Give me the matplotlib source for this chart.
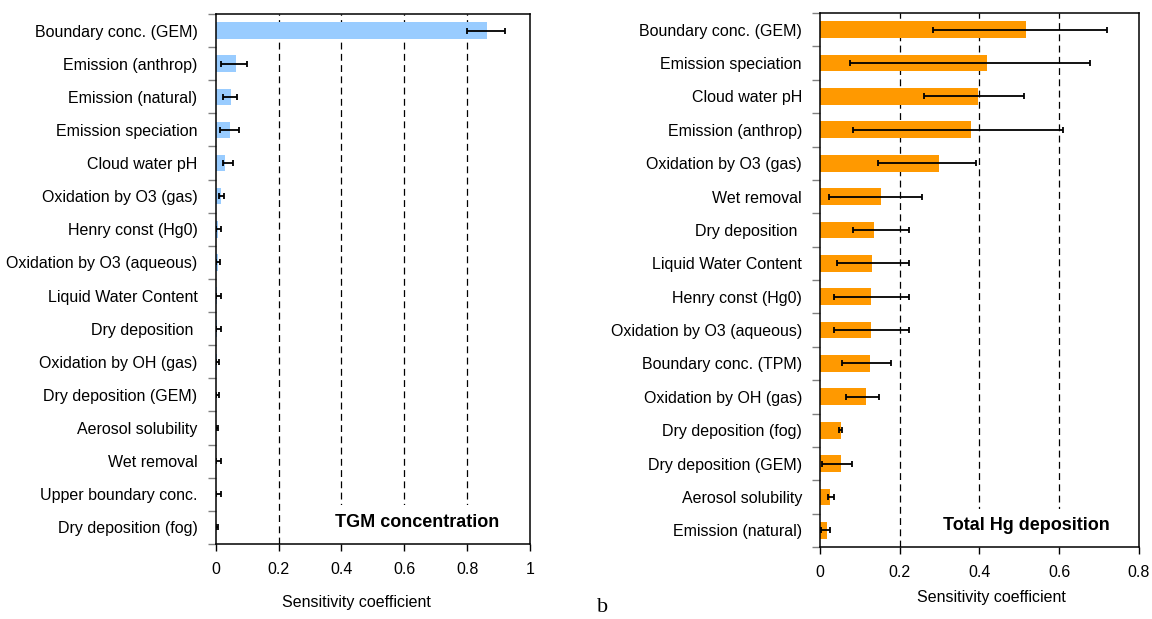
import numpy as np
import matplotlib
matplotlib.use('Agg')
import matplotlib.pyplot as plt
from matplotlib.patches import Rectangle
from matplotlib.ticker import FixedLocator, FormatStrFormatter

plt.rcParams['font.family'] = ['Liberation Sans', 'DejaVu Sans']

# TGM concentration sensitivity (top to bottom)
tgm_labels = ['Boundary conc. (GEM)', 'Emission (anthrop)', 'Emission (natural)',
              'Emission speciation', 'Cloud water pH', 'Oxidation by O3 (gas)',
              'Henry const (Hg0)', 'Oxidation by O3 (aqueous)', 'Liquid Water Content',
              'Dry deposition ', 'Oxidation by OH (gas)', 'Dry deposition (GEM)',
              'Aerosol solubility', 'Wet removal', 'Upper boundary conc.',
              'Dry deposition (fog)']
tgm_val = [0.864, 0.065, 0.049, 0.045, 0.030, 0.016, 0.006, 0.006,
           0.005, 0.005, 0.003, 0.001, 0.001, 0.002, 0.002, 0.001]
tgm_lo = [0.800, 0.017, 0.022, 0.013, 0.022, 0.010, 0.002, 0.001,
          0.002, 0.002, 0.000, 0.000, 0.000, 0.002, 0.002, 0.000]
tgm_hi = [0.920, 0.100, 0.069, 0.073, 0.055, 0.026, 0.018, 0.015,
          0.018, 0.017, 0.010, 0.010, 0.009, 0.017, 0.017, 0.009]

# total Hg deposition sensitivity (top to bottom)
dep_labels = ['Boundary conc. (GEM)', 'Emission speciation', 'Cloud water pH',
              'Emission (anthrop)', 'Oxidation by O3 (gas)', 'Wet removal',
              'Dry deposition ', 'Liquid Water Content', 'Henry const (Hg0)',
              'Oxidation by O3 (aqueous)', 'Boundary conc. (TPM)',
              'Oxidation by OH (gas)', 'Dry deposition (fog)', 'Dry deposition (GEM)',
              'Aerosol solubility', 'Emission (natural)']
dep_val = [0.517, 0.419, 0.396, 0.379, 0.298, 0.153, 0.135, 0.131,
           0.128, 0.128, 0.125, 0.116, 0.053, 0.053, 0.024, 0.018]
dep_lo = [0.283, 0.074, 0.262, 0.084, 0.145, 0.022, 0.084, 0.042,
          0.034, 0.034, 0.055, 0.066, 0.047, 0.005, 0.021, 0.003]
dep_hi = [0.721, 0.677, 0.512, 0.609, 0.392, 0.256, 0.224, 0.223,
          0.224, 0.224, 0.178, 0.147, 0.054, 0.081, 0.035, 0.024]

tgm_ticks = [0, 0.2, 0.4, 0.6, 0.8, 1.0]
dep_ticks = [0, 0.2, 0.4, 0.6, 0.8]


def panel(ax, labels, val, lo, hi, ticks, color, title, title_x, box, lab_x, lab_y):
    n = len(labels)
    y = np.arange(n)
    lo = np.array(lo)
    hi = np.array(hi)

    # dashed gridlines on the inner ticks only
    for t in ticks[1:-1]:
        ax.axvline(t, color='black', lw=0.9, ls=(0, (5.5, 3.5)), zorder=1)

    # white box behind the panel title hides the gridlines
    ax.add_patch(Rectangle((box[0], 0), box[1]-box[0], box[2], transform=ax.transAxes,
                           facecolor='white', edgecolor='none', zorder=1.5))

    ax.barh(y, val, height=0.5, color=color, zorder=2)
    ax.errorbar((lo+hi)/2, y, xerr=(hi-lo)/2, fmt='none', ecolor='black',
                elinewidth=1.3, capsize=2.2, capthick=1.3, zorder=3)

    ax.set_xlim(ticks[0], ticks[-1])
    ax.set_ylim(n-0.5, -0.5)
    ax.set_yticks(y)
    ax.set_yticklabels(labels, fontsize=11.5)
    ax.yaxis.set_minor_locator(FixedLocator(np.arange(n+1)-0.5))
    ax.tick_params(axis='y', which='major', length=0, pad=13)
    ax.tick_params(axis='y', which='minor', length=6, color='#808080', width=1)

    ax.set_xticks(ticks)
    ax.xaxis.set_major_formatter(FormatStrFormatter('%g'))
    ax.tick_params(axis='x', which='major', length=5, width=1, labelsize=11.5, pad=8)

    for s in ax.spines.values():
        s.set_linewidth(1.1)

    ax.set_xlabel('Sensitivity coefficient', fontsize=11.5)
    ax.xaxis.set_label_coords(lab_x, lab_y)
    ax.xaxis.label.set_va('center')

    ax.text(title_x, 0.04, title, transform=ax.transAxes, ha='right', va='center',
            fontsize=13, fontweight='bold', zorder=4)


fig = plt.figure(figsize=(11.52, 6.19), dpi=100)
ax1 = fig.add_axes([0.1872, 0.1212, 0.2728, 0.8562])
ax2 = fig.add_axes([0.7118, 0.1163, 0.2769, 0.8627])

panel(ax1, tgm_labels, tgm_val, tgm_lo, tgm_hi, tgm_ticks, '#99CCFF',
      'TGM concentration', 0.901, (0.33, 1.0, 0.074), 0.448, -0.111)
panel(ax2, dep_labels, dep_val, dep_lo, dep_hi, dep_ticks, '#FF9900',
      'Total Hg deposition', 0.909, (0.37, 0.93, 0.071), 0.539, -0.094)

fig.text(603/1152, 1-607/619, 'b', fontsize=16, ha='center', va='center',
         family=['Liberation Serif', 'DejaVu Serif'])

fig.savefig('out.png', dpi=100)
